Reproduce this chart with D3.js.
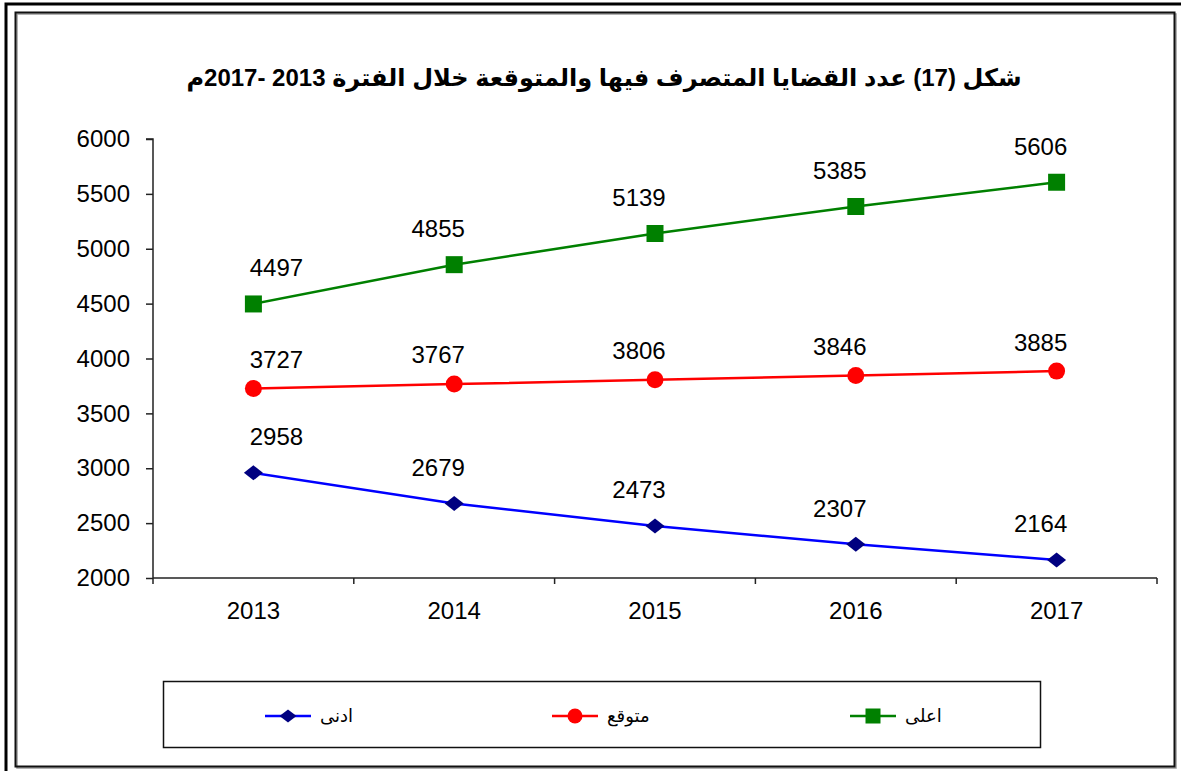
<!DOCTYPE html>
<html><head><meta charset="utf-8">
<script src="https://cdn.jsdelivr.net/npm/d3@7"></script>
<style>
html,body{margin:0;padding:0;background:#fff;}
svg{display:block;}
text{font-family:"Liberation Sans",Arial,"DejaVu Sans",sans-serif;}
</style></head>
<body>
<svg id="chart" width="1181" height="771"></svg>
<script>
const title = "شكل (17) عدد القضايا المتصرف فيها والمتوقعة خلال الفترة 2013 -2017م";
const years = ["2013","2014","2015","2016","2017"];
const seriesNames = ["ادنى","متوقع","اعلى"];
const lowValues = [2958,2679,2473,2307,2164];
const expectedValues = [3727,3767,3806,3846,3885];
const highValues = [4497,4855,5139,5385,5606];
const yTicks = [2000,2500,3000,3500,4000,4500,5000,5500,6000];

const series = [
  {name: seriesNames[2], values: highValues, line:"#008000", fill:"#008000", symbol:"square", ldy:-36},
  {name: seriesNames[1], values: expectedValues, line:"#FF0000", fill:"#FF0000", symbol:"circle", ldy:-29},
  {name: seriesNames[0], values: lowValues, line:"#0000FF", fill:"#000080", symbol:"diamond", ldy:-36}
];

const svg = d3.select("#chart");

// frames
svg.append("rect").attr("x",6).attr("y",4).attr("width",1190).attr("height",790)
  .attr("fill","none").attr("stroke","#000").attr("stroke-width",3);
svg.append("rect").attr("x",17).attr("y",14).attr("width",1159).attr("height",754)
  .attr("fill","none").attr("stroke","#999").attr("stroke-width",1.5);
svg.append("rect").attr("x",15.5).attr("y",12.5).attr("width",1159).attr("height",754)
  .attr("fill","none").attr("stroke","#111").attr("stroke-width",2);

const pLeft = 153, pRight = 1157, pTop = 139, pBottom = 578;

const x = d3.scaleBand().domain(years).range([pLeft,pRight]).paddingInner(0).paddingOuter(0);
const y = d3.scaleLinear().domain([2000,6000]).range([pBottom,pTop]);

const numFont = "'Liberation Sans',Arial,sans-serif";

// y axis
const yAxis = svg.append("g").attr("transform",`translate(${pLeft},0)`)
  .call(d3.axisLeft(y).tickValues(yTicks).tickSize(7).tickPadding(16).tickFormat(d3.format("d")));
yAxis.select(".domain").attr("stroke","#222").attr("stroke-width",1.5).attr("d",`M-7,${pTop}H0V${pBottom}`);
yAxis.selectAll("line").attr("stroke","#222").attr("stroke-width",1.5);
yAxis.selectAll("text").attr("font-size",24).attr("fill","#000").attr("font-family",numFont);

// x axis
const xAxis = svg.append("g").attr("transform",`translate(0,${pBottom})`)
  .call(d3.axisBottom(x).tickSize(0).tickPadding(24));
xAxis.select(".domain").attr("stroke","#222").attr("stroke-width",1.5).attr("d",`M${pLeft},0H${pRight}`);
xAxis.selectAll("text").attr("font-size",24).attr("fill","#000").attr("font-family",numFont);
const bounds = years.map(d=>x(d)).concat([pRight]);
xAxis.selectAll(".bt").data(bounds).enter().append("line")
  .attr("x1",d=>d).attr("x2",d=>d).attr("y1",0).attr("y2",6)
  .attr("stroke","#222").attr("stroke-width",1.5);

const cx = d => x(d) + x.bandwidth()/2;

function drawMarker(g, type, color, px, py, size){
  if(type==="square"){
    g.append("rect").attr("x",px-size/2).attr("y",py-size/2).attr("width",size).attr("height",size).attr("fill",color);
  } else if(type==="circle"){
    g.append("ellipse").attr("cx",px).attr("cy",py).attr("rx",size/2).attr("ry",size/2).attr("fill",color);
  } else {
    const w=size/2+1, h=size/2-1;
    g.append("path").attr("d",`M${px-w},${py}L${px},${py-h}L${px+w},${py}L${px},${py+h}Z`).attr("fill",color);
  }
}

const line = d3.line().x((d,i)=>cx(years[i])).y(d=>y(d));
series.forEach(s=>{
  const g = svg.append("g");
  g.append("path").datum(s.values).attr("d",line).attr("fill","none")
    .attr("stroke",s.line).attr("stroke-width",2.5);
  s.values.forEach((v,i)=>drawMarker(g,s.symbol,s.fill,cx(years[i]),y(v),17));
  g.selectAll("text.lbl").data(s.values).enter().append("text")
    .attr("x",(d,i)=>cx(years[i]) + (i===0?23:-16))
    .attr("y",d=>y(d)+s.ldy)
    .attr("text-anchor","middle").attr("dy","0.35em")
    .attr("font-size",24).attr("fill","#000").attr("font-family",numFont)
    .text(d=>d);
});

// title
svg.append("text").attr("x",604).attr("y",78).attr("text-anchor","middle").attr("dy","0.35em")
  .attr("font-size",24).attr("font-weight","bold").attr("direction","rtl")
  .attr("font-family","'DejaVu Sans',sans-serif")
  .text(title);

// legend
svg.append("rect").attr("x",163.5).attr("y",681.5).attr("width",877).attr("height",66)
  .attr("fill","#fff").attr("stroke","#111").attr("stroke-width",1.5);
const legendItems = [
  {s: series[2], x0: 265},
  {s: series[1], x0: 552},
  {s: series[0], x0: 850}
];
legendItems.forEach(it=>{
  const g = svg.append("g");
  const ly = 716;
  g.append("line").attr("x1",it.x0).attr("x2",it.x0+46).attr("y1",ly).attr("y2",ly)
    .attr("stroke",it.s.line).attr("stroke-width",2.5);
  drawMarker(g,it.s.symbol,it.s.fill,it.x0+23,ly,15);
  g.append("text").attr("x",it.x0+55).attr("y",ly).attr("dy","0.35em")
    .attr("font-size",18).attr("text-anchor","start")
    .attr("font-family","'DejaVu Serif','DejaVu Sans',serif")
    .text(it.s.name);
});
</script>
</body></html>
